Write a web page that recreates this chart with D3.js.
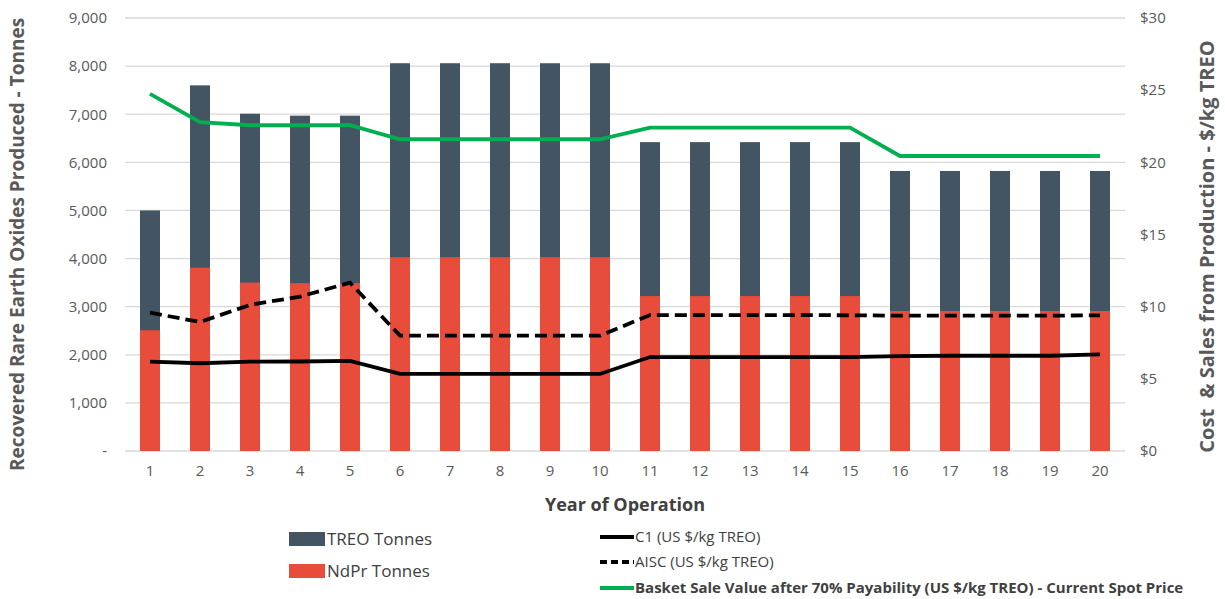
<!DOCTYPE html>
<html>
<head>
<meta charset="utf-8">
<script src="https://cdn.jsdelivr.net/npm/d3@7"></script>
<style>
  body { margin: 0; background: #fff; }
  text { font-family: "Open Sans", "Noto Sans", sans-serif; }
  .tick text { fill: #595959; font-size: 15px; }
  .legend text { fill: #404040; }
</style>
</head>
<body>
<div class="chart-container"></div>
<script>
var years = d3.range(1, 21);
var treoTonnes = [5000, 7600, 7010, 6970, 6970, 8060, 8060, 8060, 8060, 8060,
                  6420, 6420, 6420, 6420, 6420, 5820, 5820, 5820, 5820, 5820];
var ndprTonnes = [2510, 3810, 3500, 3490, 3490, 4030, 4030, 4030, 4030, 4030,
                  3220, 3220, 3220, 3220, 3220, 2910, 2910, 2910, 2910, 2910];
var c1Cost = [6.19, 6.08, 6.19, 6.2, 6.24, 5.34, 5.34, 5.34, 5.34, 5.34,
              6.51, 6.5, 6.5, 6.5, 6.5, 6.58, 6.6, 6.6, 6.6, 6.7];
var aiscCost = [9.58, 8.94, 10.12, 10.7, 11.66, 7.99, 7.99, 7.99, 7.99, 7.99,
                9.42, 9.42, 9.42, 9.42, 9.4, 9.38, 9.38, 9.38, 9.38, 9.4];
var basketValue = [24.74, 22.78, 22.57, 22.57, 22.57, 21.6, 21.6, 21.6, 21.6, 21.6,
                   22.4, 22.4, 22.4, 22.4, 22.4, 20.44, 20.44, 20.44, 20.44, 20.44];
var leftTicks = [0, 1000, 2000, 3000, 4000, 5000, 6000, 7000, 8000, 9000];
var rightTicks = [0, 5, 10, 15, 20, 25, 30];

var W = 1225, H = 599;
var margin = {top: 18, right: 100, bottom: 148, left: 125},
    width = W - margin.left - margin.right,
    height = H - margin.top - margin.bottom;

var svg = d3.select(".chart-container").append("svg")
    .attr("width", W)
    .attr("height", H);

var x = d3.scaleBand().domain(years).range([0, width]).paddingInner(0.6).paddingOuter(0.3),
    y = d3.scaleLinear().domain([0, 9000]).range([height, 0]),
    y2 = d3.scaleLinear().domain([0, 30]).range([height, 0]);

var g = svg.append("g")
    .attr("transform", "translate(" + margin.left + "," + margin.top + ")");

// gridlines
g.append("g")
    .attr("class", "grid")
    .selectAll("line")
    .data(leftTicks)
    .enter().append("line")
    .attr("x1", 0).attr("x2", width)
    .attr("y1", function(d) { return y(d); })
    .attr("y2", function(d) { return y(d); })
    .style("stroke", "#d9d9d9")
    .style("stroke-width", 1.3);

// left axis
var yAxis = d3.axisLeft(y).tickValues(leftTicks).tickSize(0).tickPadding(18)
    .tickFormat(function(d) { return d === 0 ? "-" : d3.format(",")(d); });
g.append("g").attr("class", "y axis").call(yAxis)
    .call(function(a) { a.select(".domain").remove(); });

// right axis
var yAxis2 = d3.axisRight(y2).tickValues(rightTicks).tickSize(0).tickPadding(15)
    .tickFormat(function(d) { return "$" + d; });
g.append("g").attr("class", "y2 axis")
    .attr("transform", "translate(" + width + ",0)")
    .call(yAxis2)
    .call(function(a) { a.select(".domain").remove(); });

// x axis
var xAxis = d3.axisBottom(x).tickSize(0).tickPadding(14);
g.append("g").attr("class", "x axis")
    .attr("transform", "translate(0," + height + ")")
    .call(xAxis)
    .call(function(a) { a.select(".domain").remove(); });

// bars: TREO full height, NdPr overlaid in front
g.append("g").selectAll("rect")
    .data(treoTonnes)
    .enter().append("rect")
    .attr("x", function(d, i) { return x(years[i]); })
    .attr("width", x.bandwidth())
    .attr("y", function(d) { return y(d); })
    .attr("height", function(d) { return height - y(d); })
    .style("fill", "#435563");

g.append("g").selectAll("rect")
    .data(ndprTonnes)
    .enter().append("rect")
    .attr("x", function(d, i) { return x(years[i]); })
    .attr("width", x.bandwidth())
    .attr("y", function(d) { return y(d); })
    .attr("height", function(d) { return height - y(d); })
    .style("fill", "#e84c3a");

var line = d3.line()
    .x(function(d, i) { return x(years[i]) + x.bandwidth() / 2; })
    .y(function(d) { return y2(d); });

g.append("path").datum(c1Cost)
    .attr("d", line)
    .style("fill", "none").style("stroke", "#000").style("stroke-width", 3.8);

g.append("path").datum(aiscCost)
    .attr("d", line)
    .style("fill", "none").style("stroke", "#000").style("stroke-width", 3.8)
    .style("stroke-dasharray", "12,6");

g.append("path").datum(basketValue)
    .attr("d", line)
    .style("fill", "none").style("stroke", "#00b050").style("stroke-width", 3.8);

// axis titles
svg.append("text")
    .attr("transform", "translate(24," + (margin.top + height / 2 + 10) + ") rotate(-90)")
    .attr("text-anchor", "middle")
    .style("font-size", "19px").style("font-weight", "bold").style("fill", "#595959")
    .text("Recovered Rare Earth Oxides Produced - Tonnes");

svg.append("text")
    .attr("transform", "translate(1214," + (margin.top + height / 2 + 12) + ") rotate(-90)")
    .attr("text-anchor", "middle")
    .attr("xml:space", "preserve")
    .style("white-space", "pre")
    .style("font-size", "20px").style("font-weight", "bold").style("fill", "#595959")
    .text("Cost  & Sales from Production - $/kg TREO");

svg.append("text")
    .attr("x", 625).attr("y", 511)
    .attr("text-anchor", "middle")
    .style("font-size", "18px").style("font-weight", "bold").style("fill", "#404040")
    .text("Year of Operation");

// legend
var legend = svg.append("g").attr("class", "legend");
var barLegend = [
  {name: "TREO Tonnes", color: "#435563", y: 539},
  {name: "NdPr Tonnes", color: "#e84c3a", y: 571}
];
barLegend.forEach(function(l) {
  legend.append("rect").attr("x", 289).attr("y", l.y - 7).attr("width", 36).attr("height", 14)
      .style("fill", l.color);
  legend.append("text").attr("x", 327).attr("y", l.y + 6)
      .style("font-size", "17px").text(l.name);
});

var lineLegend = [
  {name: "C1 (US $/kg TREO)", color: "#000", dash: null, y: 537, bold: false},
  {name: "AISC (US $/kg TREO)", color: "#000", dash: "7,4", y: 562, bold: false},
  {name: "Basket Sale Value after 70% Payability (US $/kg TREO) - Current Spot Price", color: "#00b050", dash: null, y: 588, bold: true}
];
lineLegend.forEach(function(l) {
  legend.append("line").attr("x1", 600).attr("x2", 634).attr("y1", l.y).attr("y2", l.y)
      .style("stroke", l.color).style("stroke-width", 3.8)
      .style("stroke-dasharray", l.dash);
  legend.append("text").attr("x", 635).attr("y", l.y + 5)
      .style("font-size", "15px")
      .style("font-weight", l.bold ? "bold" : "normal")
      .text(l.name);
});
</script>
</body>
</html>
